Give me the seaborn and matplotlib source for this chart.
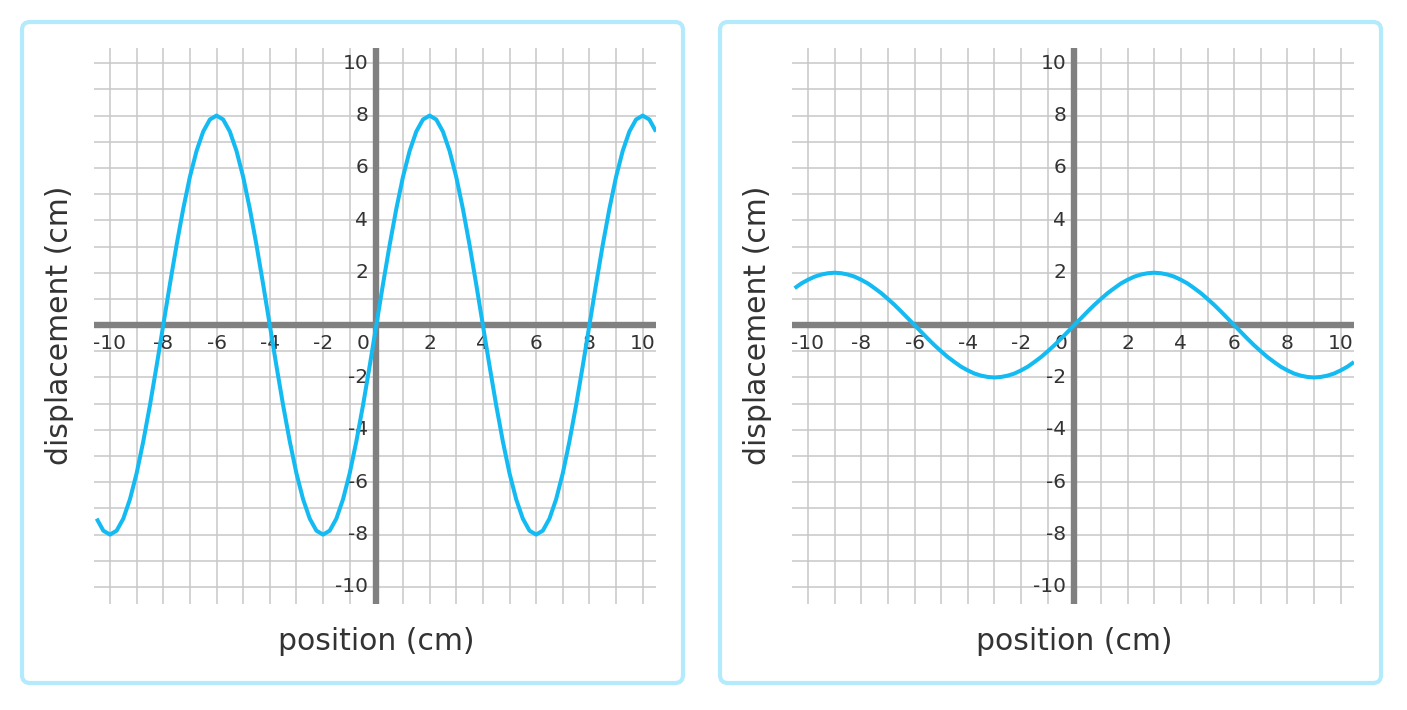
import numpy as np
import matplotlib
matplotlib.use("Agg")
import matplotlib.pyplot as plt
from matplotlib.patches import FancyBboxPatch
import seaborn as sns

# DATA

# left wave: sampled every 0.25 cm from -10.5 to 10.5
left_pos = np.arange(-10.5, 10.51, 0.25)
left_disp = [
    -7.39, -7.85, -8.0, -7.85, -7.39, -6.65, -5.66, -4.44, -3.06, -1.56,
    0, 1.56, 3.06, 4.44, 5.66, 6.65, 7.39, 7.85, 8.0, 7.85, 7.39, 6.65, 5.66, 4.44, 3.06, 1.56,
    0, -1.56, -3.06, -4.44, -5.66, -6.65, -7.39, -7.85, -8.0, -7.85, -7.39, -6.65, -5.66, -4.44, -3.06, -1.56,
    0, 1.56, 3.06, 4.44, 5.66, 6.65, 7.39, 7.85, 8.0, 7.85, 7.39, 6.65, 5.66, 4.44, 3.06, 1.56,
    0, -1.56, -3.06, -4.44, -5.66, -6.65, -7.39, -7.85, -8.0, -7.85, -7.39, -6.65, -5.66, -4.44, -3.06, -1.56,
    0, 1.56, 3.06, 4.44, 5.66, 6.65, 7.39, 7.85, 8.0, 7.85, 7.39,
]

# right wave: sampled every 0.25 cm from -10.5 to 10.5
right_pos = np.arange(-10.5, 10.51, 0.25)
right_disp = [
    1.41, 1.59, 1.73, 1.85, 1.93, 1.98, 2.0, 1.98, 1.93, 1.85, 1.73, 1.59, 1.41, 1.22, 1.0, 0.77, 0.52, 0.26,
    0, -0.26, -0.52, -0.77, -1.0, -1.22, -1.41, -1.59, -1.73, -1.85, -1.93, -1.98,
    -2.0, -1.98, -1.93, -1.85, -1.73, -1.59, -1.41, -1.22, -1.0, -0.77, -0.52, -0.26,
    0, 0.26, 0.52, 0.77, 1.0, 1.22, 1.41, 1.59, 1.73, 1.85, 1.93, 1.98,
    2.0, 1.98, 1.93, 1.85, 1.73, 1.59, 1.41, 1.22, 1.0, 0.77, 0.52, 0.26,
    0, -0.26, -0.52, -0.77, -1.0, -1.22, -1.41, -1.59, -1.73, -1.85, -1.93, -1.98,
    -2.0, -1.98, -1.93, -1.85, -1.73, -1.59, -1.41,
]

grid_ticks = list(range(-10, 11))
x_labels = [-10, -8, -6, -4, -2, 0, 2, 4, 6, 8, 10]
y_labels = [10, 8, 6, 4, 2, -2, -4, -6, -8, -10]

x_title = "position (cm)"
y_title = "displacement (cm)"

# STYLE
sns.set_style("white")
plt.rcParams["font.family"] = ["DejaVu Sans"]

W, H = 1407, 710
fig = plt.figure(figsize=(W / 100, H / 100), dpi=100)

curve_color = "#14bbf2"
text_color = "#333333"
border_color = "#b3ebfc"


def draw_panel(x_off, pos, disp):
    # pixel positions of the plotting area inside the panel
    left, right, top, bottom = 94 + x_off, 656 + x_off, 47.5, 604
    ax = fig.add_axes([left / W, (H - bottom) / H, (right - left) / W, (bottom - top) / H])
    ax.set_xlim(-10.6, 10.5)
    ax.set_ylim(-10.65, 10.6)
    ax.set_xticks(grid_ticks)
    ax.set_yticks(grid_ticks)
    ax.tick_params(length=0, labelbottom=False, labelleft=False)
    ax.grid(True, color="#c8c8c8", lw=1.1)
    ax.set_axisbelow(True)
    for s in ax.spines.values():
        s.set_visible(False)

    ax.axhline(0, color="#808080", lw=4.6, zorder=2)
    ax.axvline(0, color="#808080", lw=4.6, zorder=2)

    sns.lineplot(x=pos, y=disp, ax=ax, color=curve_color, lw=2.9, zorder=4,
                 legend=False, solid_joinstyle="round", solid_capstyle="butt")
    ax.set_xlabel("")
    ax.set_ylabel("")

    for v in x_labels:
        xv = -0.5 if v == 0 else v
        ax.text(xv, -0.7, str(v), ha="center", va="center", fontsize=14.5,
                color=text_color, zorder=3)
    for v in y_labels:
        ax.text(-0.3, v, str(v), ha="right", va="center", fontsize=14.5,
                color=text_color, zorder=3)

    # axis titles
    fig.text((376 + x_off) / W, 1 - 641 / H, x_title, ha="center", va="center",
             fontsize=21.5, color=text_color)
    fig.text((60 + x_off) / W, 1 - 325 / H, y_title, ha="center", va="center",
             fontsize=21.5, color=text_color, rotation=90)

    # rounded border around the panel
    box = FancyBboxPatch(((22 + x_off) / 100, (H - 683) / 100), 6.61, 6.61,
                         boxstyle="round,pad=0,rounding_size=0.08",
                         transform=fig.dpi_scale_trans, fill=False,
                         edgecolor=border_color, lw=3)
    fig.patches.append(box)


draw_panel(0, left_pos, left_disp)
draw_panel(698, right_pos, right_disp)

fig.savefig("out.png", dpi=100)
